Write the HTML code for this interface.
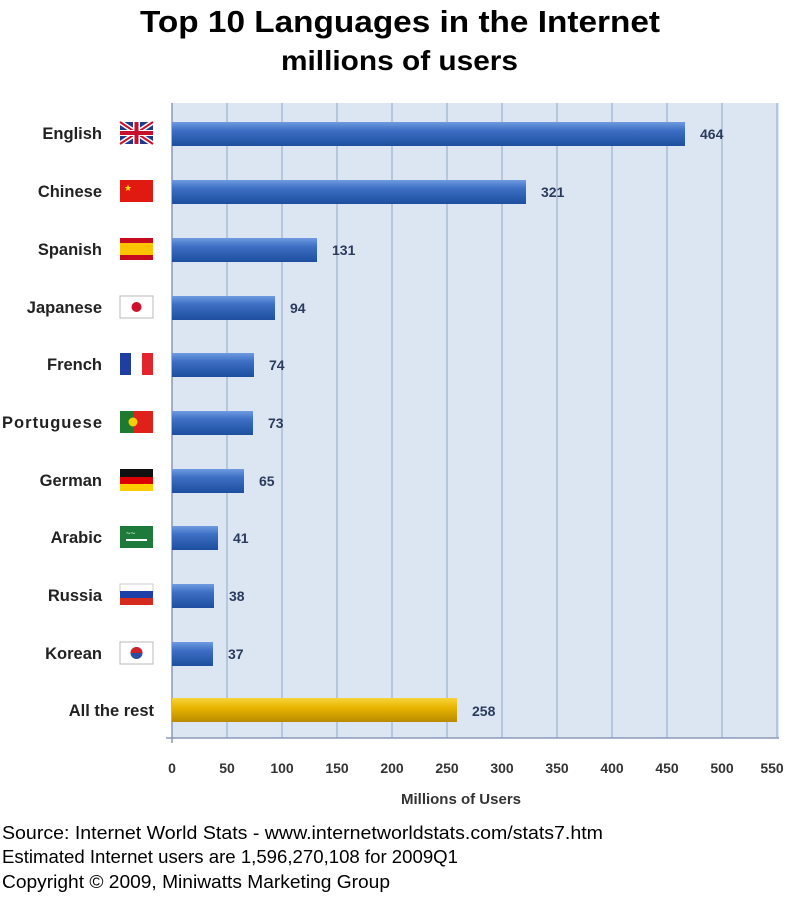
<!DOCTYPE html>
<html><head><meta charset="utf-8"><style>
body{margin:0;background:#fff;width:800px;height:896px;overflow:hidden;font-family:"Liberation Sans",Arial,sans-serif}
</style></head><body>
<svg width="800" height="896" xmlns="http://www.w3.org/2000/svg" font-family="Liberation Sans, Arial, sans-serif">
<defs>
<linearGradient id="b" x1="0" y1="0" x2="0" y2="1">
<stop offset="0" stop-color="#6f9be0"/><stop offset="0.35" stop-color="#3d6fc4"/><stop offset="1" stop-color="#1d4e9e"/></linearGradient>
<linearGradient id="y" x1="0" y1="0" x2="0" y2="1">
<stop offset="0" stop-color="#f7d43a"/><stop offset="0.4" stop-color="#e8b500"/><stop offset="1" stop-color="#b98a00"/></linearGradient>
</defs>
<text x="140" y="32" font-size="31" font-weight="bold" fill="#000" textLength="520" lengthAdjust="spacingAndGlyphs">Top 10 Languages in the Internet</text>
<text x="281" y="70" font-size="28" font-weight="bold" fill="#000" textLength="237" lengthAdjust="spacingAndGlyphs">millions of users</text>
<rect x="172" y="103" width="607" height="635" fill="#dce6f3"/>
<g stroke="#9db0cc" stroke-width="1.2">
<line x1="227" y1="103" x2="227" y2="738"/><line x1="282" y1="103" x2="282" y2="738"/>
<line x1="337" y1="103" x2="337" y2="738"/><line x1="392" y1="103" x2="392" y2="738"/>
<line x1="447" y1="103" x2="447" y2="738"/><line x1="502" y1="103" x2="502" y2="738"/>
<line x1="557" y1="103" x2="557" y2="738"/><line x1="612" y1="103" x2="612" y2="738"/>
<line x1="667" y1="103" x2="667" y2="738"/><line x1="722" y1="103" x2="722" y2="738"/>
<line x1="777" y1="103" x2="777" y2="738"/>
</g>
<g stroke="#8a9ab5" stroke-width="1.5">
<line x1="172" y1="103" x2="172" y2="743"/><line x1="166" y1="738" x2="779" y2="738"/>
</g>
<g font-size="16.5" font-weight="bold" fill="#222" text-anchor="end">
<text x="102" y="139">English</text><text x="102" y="197">Chinese</text><text x="102" y="255">Spanish</text>
<text x="102" y="313">Japanese</text><text x="102" y="370">French</text><text x="102" y="428" textLength="100" lengthAdjust="spacing">Portuguese</text>
<text x="102" y="486">German</text><text x="102" y="543">Arabic</text><text x="102" y="601">Russia</text>
<text x="102" y="659">Korean</text><text x="154" y="716">All the rest</text>
</g>
<g>
<rect x="120" y="122" width="33" height="22" fill="#1f3a8a"/>
<path d="M120 122L153 144M153 122L120 144" stroke="#fff" stroke-width="5"/>
<path d="M120 122L153 144M153 122L120 144" stroke="#c8102e" stroke-width="2"/>
<rect x="133" y="122" width="7" height="22" fill="#fff"/><rect x="120" y="130" width="33" height="6" fill="#fff"/>
<rect x="134.5" y="122" width="4" height="22" fill="#c8102e"/><rect x="120" y="131" width="33" height="4" fill="#c8102e"/>
<rect x="120" y="180" width="33" height="22" fill="#e01a10"/><text x="124" y="191" font-size="9" fill="#ffde00">★</text>
<rect x="120" y="238" width="33" height="22" fill="#c60b1e"/><rect x="120" y="243" width="33" height="12" fill="#ffc400"/>
<rect x="120" y="296" width="33" height="22" fill="#fff" stroke="#bbb"/><circle cx="136.5" cy="307" r="5" fill="#d0102a"/>
<rect x="120" y="353" width="11" height="22" fill="#1f3fa0"/><rect x="131" y="353" width="11" height="22" fill="#fff"/><rect x="142" y="353" width="11" height="22" fill="#e2252c"/>
<rect x="120" y="411" width="13" height="22" fill="#1e7a30"/><rect x="133" y="411" width="20" height="22" fill="#e0201a"/><circle cx="133" cy="422" r="4.5" fill="#f5d000"/>
<rect x="120" y="469" width="33" height="8" fill="#111"/><rect x="120" y="477" width="33" height="7" fill="#dd0000"/><rect x="120" y="484" width="33" height="7" fill="#ffce00"/>
<rect x="120" y="526" width="33" height="22" fill="#1d7a3a"/><rect x="126" y="539" width="21" height="2" fill="#fff"/><text x="126" y="536" font-size="8" fill="#fff">~~</text>
<rect x="120" y="584" width="33" height="8" fill="#fff" stroke="#ccc"/><rect x="120" y="591" width="33" height="7" fill="#1c3fa8"/><rect x="120" y="598" width="33" height="7" fill="#d52b1e"/>
<rect x="120" y="642" width="33" height="22" fill="#fff" stroke="#bbb"/><circle cx="136.5" cy="653" r="6" fill="#2a4ea0"/><path d="M130.5 653a6 6 0 0 1 12 0z" fill="#d0202a"/>
</g>
<g fill="url(#b)">
<rect x="172" y="122" width="513" height="24"/>
<rect x="172" y="180" width="354" height="24"/>
<rect x="172" y="238" width="145" height="24"/>
<rect x="172" y="296" width="103" height="24"/>
<rect x="172" y="353" width="82" height="24"/>
<rect x="172" y="411" width="81" height="24"/>
<rect x="172" y="469" width="72" height="24"/>
<rect x="172" y="526" width="46" height="24"/>
<rect x="172" y="584" width="42" height="24"/>
<rect x="172" y="642" width="41" height="24"/>
</g>
<rect x="172" y="698" width="285" height="24" fill="url(#y)"/>
<g font-size="14" font-weight="bold" fill="#2a3b5c">
<text x="700" y="139">464</text><text x="541" y="197">321</text><text x="332" y="255">131</text>
<text x="290" y="313">94</text><text x="269" y="370">74</text><text x="268" y="428">73</text>
<text x="259" y="486">65</text><text x="233" y="543">41</text><text x="229" y="601">38</text>
<text x="228" y="659">37</text><text x="472" y="716">258</text>
</g>
<g font-size="14" font-weight="bold" fill="#333" text-anchor="middle">
<text x="172" y="773">0</text><text x="227" y="773">50</text><text x="282" y="773">100</text>
<text x="337" y="773">150</text><text x="392" y="773">200</text><text x="447" y="773">250</text>
<text x="502" y="773">300</text><text x="557" y="773">350</text><text x="612" y="773">400</text>
<text x="667" y="773">450</text><text x="722" y="773">500</text><text x="772" y="773">550</text>
<text x="461" y="804" font-size="15">Millions of Users</text>
</g>
<g font-size="18" fill="#000">
<text x="2" y="839" textLength="601" lengthAdjust="spacingAndGlyphs">Source: Internet World Stats - www.internetworldstats.com/stats7.htm</text>
<text x="2" y="863" textLength="456" lengthAdjust="spacingAndGlyphs">Estimated Internet users are 1,596,270,108 for 2009Q1</text>
<text x="2" y="888" textLength="388" lengthAdjust="spacingAndGlyphs">Copyright © 2009, Miniwatts Marketing Group</text>
</g>
</svg>
</body></html>
